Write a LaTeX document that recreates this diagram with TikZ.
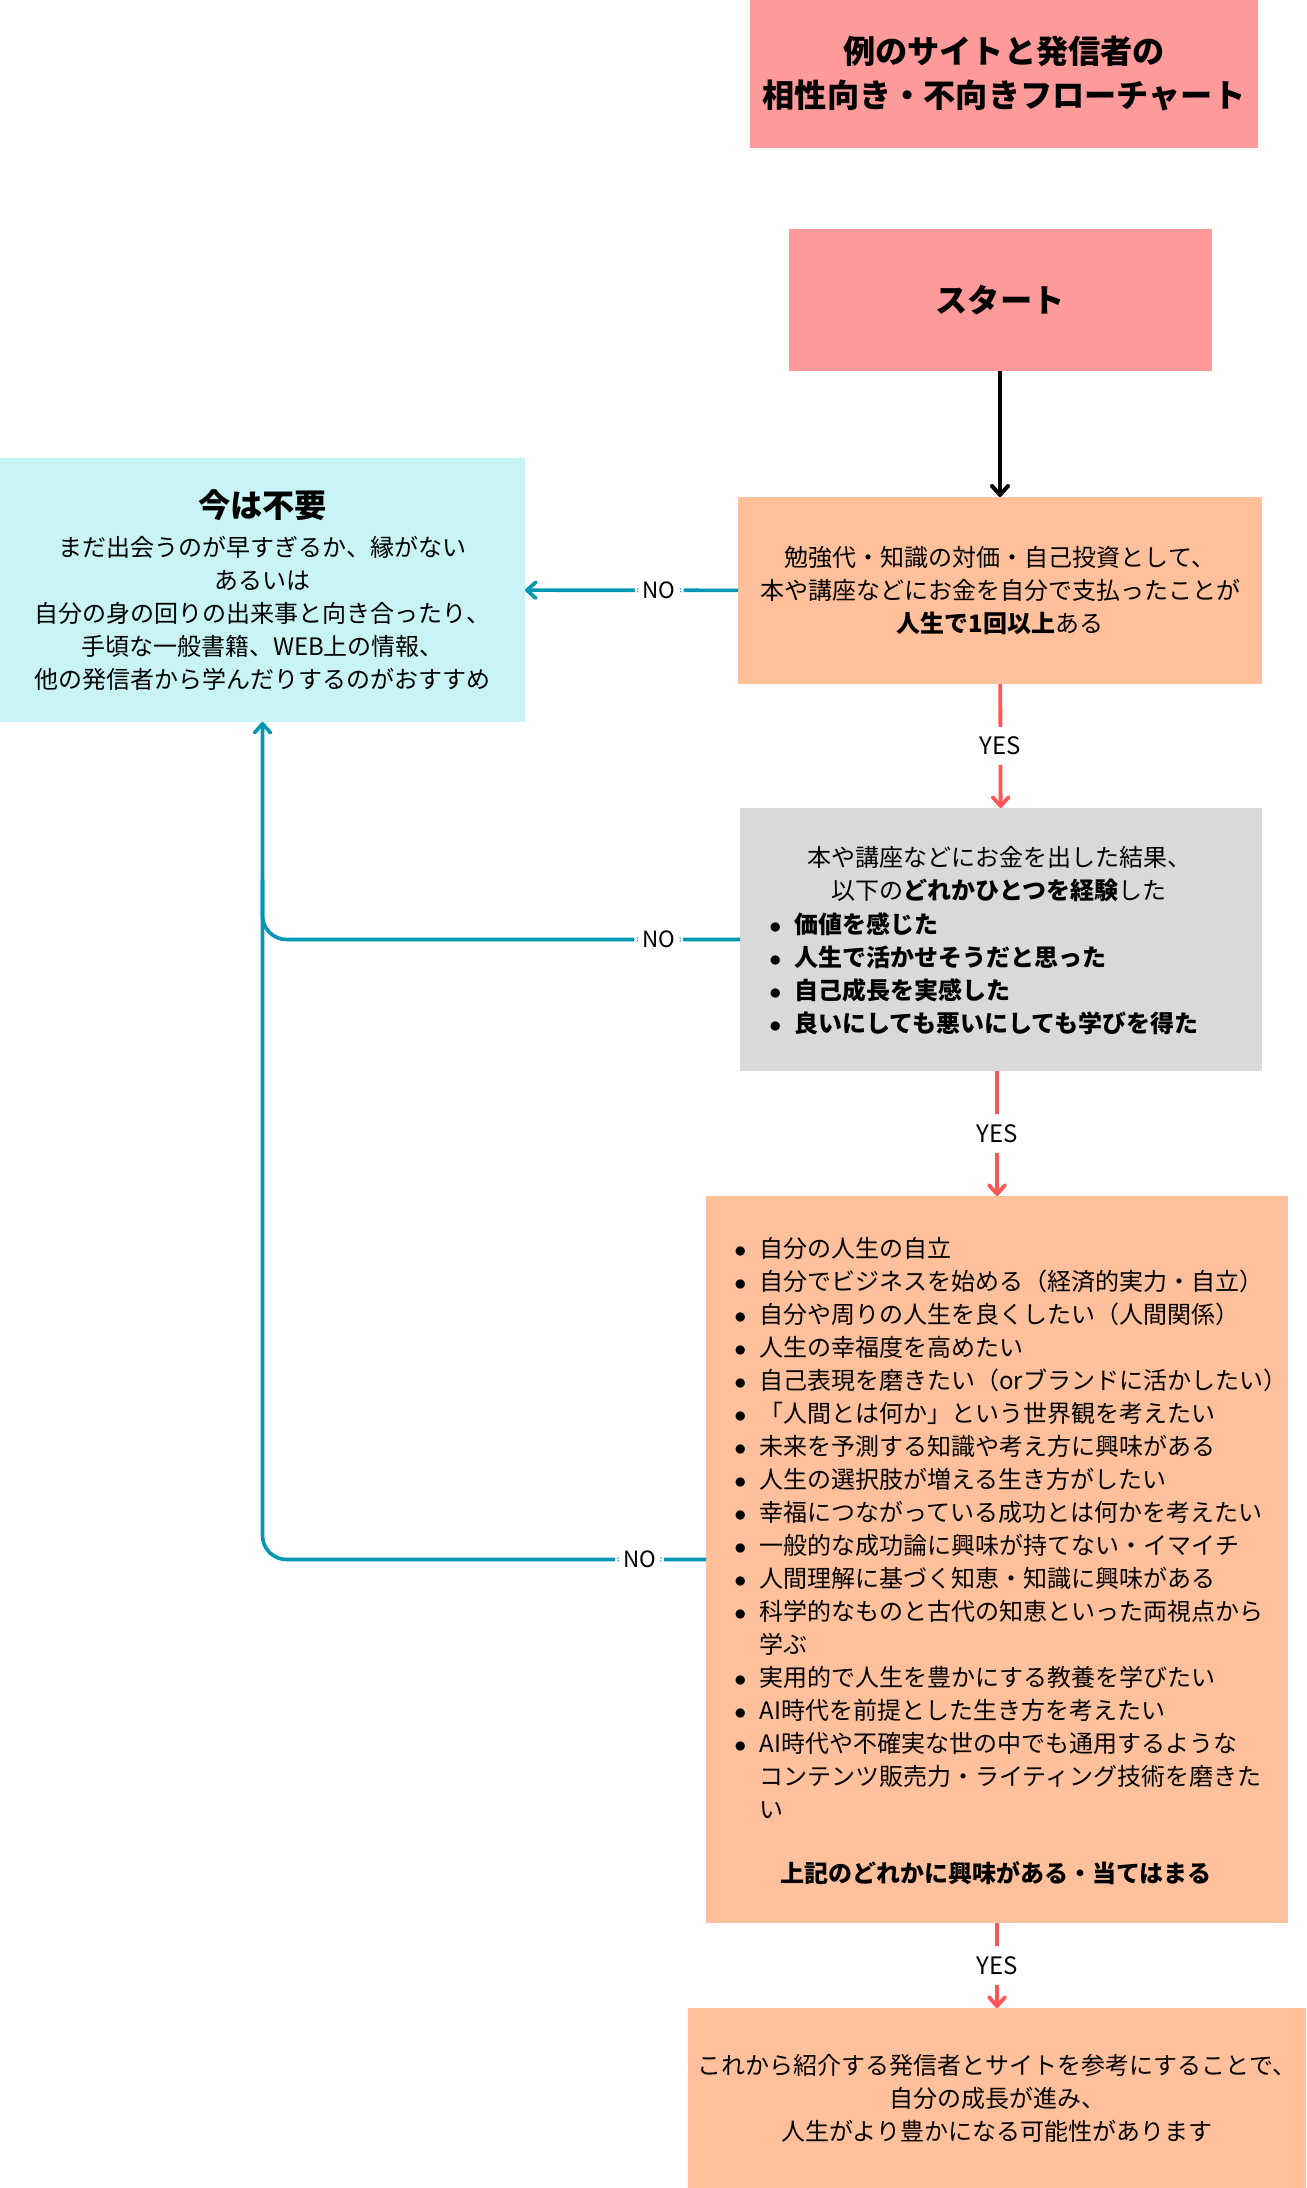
\documentclass[tikz,border=0pt]{standalone}
\usepackage{fontspec}
\setmainfont{Noto Sans CJK JP}
\usepackage{xcolor}
\definecolor{ppink}{HTML}{FF9A9A}
\definecolor{ppeach}{HTML}{FFC09B}
\definecolor{ggrey}{HTML}{D9D9D9}
\definecolor{ccyan}{HTML}{C9F4F6}
\definecolor{tteal}{HTML}{0097B2}
\definecolor{rred}{HTML}{FF5757}
\usepackage{tikz}
\usetikzlibrary{arrows.meta}
\newcommand{\bodyfont}{\fontsize{12}{16.5}\selectfont}
\newcommand{\headfont}{\fontsize{16.1}{22}\selectfont\bfseries}
\newcommand{\bul}{\makebox[12.5pt][l]{$\bullet$}}

\begin{document}
\begin{tikzpicture}[
    x=0.5pt, y=-0.5pt,
    box/.style={rectangle, inner sep=0pt, outer sep=0pt, align=center, font=\bodyfont},
    pinkbox/.style={box, fill=ppink, font=\headfont},
    peachbox/.style={box, fill=ppeach},
    greybox/.style={box, fill=ggrey},
    cyanbox/.style={box, fill=ccyan},
    listtext/.style={inner sep=0pt, align=left, font=\bodyfont},
    barb/.style={-{Straight Barb[round, length=4.5pt, width=8pt]}},
    startarrow/.style={barb, line width=2pt, black},
    yesarrow/.style={barb, line width=1.9pt, rred},
    noline/.style={line width=1.8pt, tteal, rounded corners=12pt},
    noarrow/.style={barb, noline},
    yeslabel/.style={fill=white, text=black, font=\fontsize{12}{14}\selectfont, inner xsep=2pt, inner ysep=5pt},
    nolabel/.style={fill=white, text=black, font=\fontsize{11.2}{13}\selectfont, inner xsep=4pt, inner ysep=2pt},
    ]
    \useasboundingbox (0,0) rectangle (1306,2188);
    \node[pinkbox, minimum width=254pt, minimum height=74pt] (title) at (1004,74) {例のサイトと発信者の\\相性向き・不向きフローチャート};
    \node[pinkbox, minimum width=211.5pt, minimum height=71pt] (start) at (1000,300) {スタート};
    \node[peachbox, minimum width=262pt, minimum height=93.5pt] (q1) at (1000,590.5) {勉強代・知識の対価・自己投資として、\\本や講座などにお金を自分で支払ったことが\\\textbf{人生で1回以上}ある};
    \node[cyanbox, minimum width=262.5pt, minimum height=132pt] (nope) at (262.5,590) {{\headfont 今は不要}\\[3pt]まだ出会うのが早すぎるか、縁がない\\あるいは\\自分の身の回りの出来事と向き合ったり、\\手頃な一般書籍、WEB上の情報、\\他の発信者から学んだりするのがおすすめ};
    \node[greybox, minimum width=261pt, minimum height=131.5pt] (q2) at (1001,939.5) {};
    \node[listtext, align=center] (q2head) at (999,874.5) {本や講座などにお金を出した結果、\\以下の\textbf{どれかひとつを経験}した};
    \node[listtext, anchor=west] (q2list) at (769,973.5) {\bul\textbf{価値を感じた}\\\bul\textbf{人生で活かせそうだと思った}\\\bul\textbf{自己成長を実感した}\\\bul\textbf{良いにしても悪いにしても学びを得た}};
    \node[peachbox, minimum width=291pt, minimum height=363.5pt] (q3) at (997,1559.5) {};
    \node[listtext, anchor=west] (q3list) at (734,1528) {\bul 自分の人生の自立\\
        \bul 自分でビジネスを始める（経済的実力・自立）\\
        \bul 自分や周りの人生を良くしたい（人間関係）\\
        \bul 人生の幸福度を高めたい\\
        \bul 自己表現を磨きたい（orブランドに活かしたい）\\
        \bul 「人間とは何か」という世界観を考えたい\\
        \bul 未来を予測する知識や考え方に興味がある\\
        \bul 人生の選択肢が増える生き方がしたい\\
        \bul 幸福につながっている成功とは何かを考えたい\\
        \bul 一般的な成功論に興味が持てない・イマイチ\\
        \bul 人間理解に基づく知恵・知識に興味がある\\
        \bul 科学的なものと古代の知恵といった両視点から\\
        \hspace*{12.5pt}学ぶ\\
        \bul 実用的で人生を豊かにする教養を学びたい\\
        \bul AI時代を前提とした生き方を考えたい\\
        \bul AI時代や不確実な世の中でも通用するような\\
        \hspace*{12.5pt}コンテンツ販売力・ライティング技術を磨きた\\
        \hspace*{12.5pt}い};
    \node[listtext, font=\bodyfont\bfseries] (q3sum) at (996,1873) {上記のどれかに興味がある・当てはまる};
    \node[peachbox, minimum width=309pt, minimum height=90pt] (fin) at (997,2098) {これから紹介する発信者とサイトを参考にすることで、\\自分の成長が進み、\\人生がより豊かになる可能性があります};
    \draw[startarrow] (start) -- (q1);
    \draw[yesarrow] (q1) -- node[yeslabel] {YES} (q2);
    \draw[yesarrow] (q3.north |- q2.south) -- node[yeslabel] {YES} (q3.north);
    \draw[yesarrow] (q3) -- node[yeslabel] {YES} (fin);
    \draw[noarrow] (q1) -- node[nolabel, pos=0.37] {NO} (nope);
    \draw[noline] (q2.west) -- node[nolabel, pos=0.17] {NO} (nope.south |- q2.west) -- ++(0,-60);
    \draw[noarrow] (q3.west) -- node[nolabel, pos=0.15] {NO} (nope.south |- q3.west) -- (nope.south);
\end{tikzpicture}
\end{document}
